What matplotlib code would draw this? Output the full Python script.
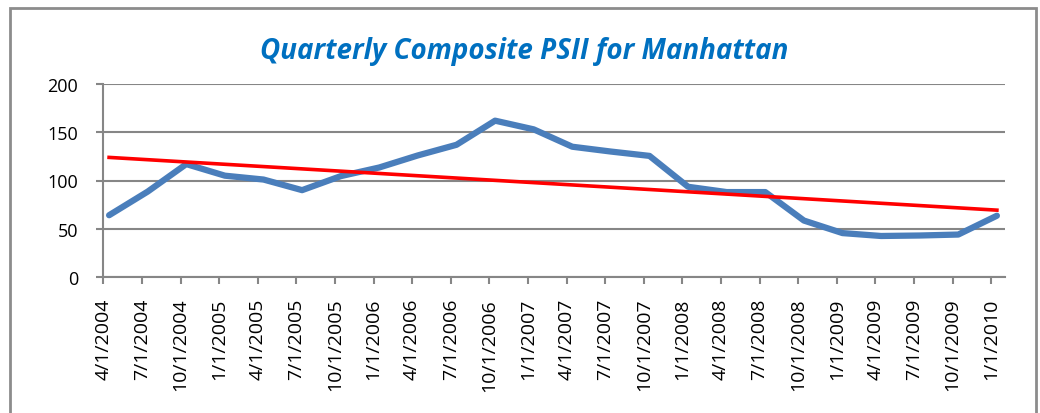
import matplotlib
matplotlib.use("Agg")
import matplotlib.pyplot as plt
from matplotlib.patches import Rectangle
import numpy as np

# quarterly dates and composite PSII values
dates = ['4/1/2004', '7/1/2004', '10/1/2004', '1/1/2005', '4/1/2005', '7/1/2005',
         '10/1/2005', '1/1/2006', '4/1/2006', '7/1/2006', '10/1/2006', '1/1/2007',
         '4/1/2007', '7/1/2007', '10/1/2007', '1/1/2008', '4/1/2008', '7/1/2008',
         '10/1/2008', '1/1/2009', '4/1/2009', '7/1/2009', '10/1/2009', '1/1/2010']
psii = [64, 88.5, 117, 105, 101, 90, 104.5, 113.5, 126, 137, 162, 153,
        135, 130, 125.5, 93.5, 88, 88, 58.5, 45.5, 42.5, 43, 44, 63.5]

# data sit slightly after the 1st-of-month tick on Excel's date axis
x_ticks = np.arange(len(dates))
x_pts = x_ticks + 0.15

# linear trend line, like Excel's
coef = np.polyfit(x_pts, psii, 1)
trend = np.poly1d(coef)

fig = plt.figure(figsize=(10.4, 4.14), dpi=100)
fig.patches.append(Rectangle((10 / 1040, -0.1), 1026 / 1040, 1 - 9 / 414 + 0.1,
                             transform=fig.transFigure, fill=False,
                             edgecolor='#8c8c8c', lw=2))

ax = fig.add_axes([103.3 / 1040, 1 - 278 / 414, (1005 - 103.3) / 1040, (278 - 85) / 414])

grid_c = '#868686'
ax.set_ylim(0, 200)
ax.set_yticks([0, 50, 100, 150, 200])
ax.yaxis.grid(True, color=grid_c, lw=1.5)
ax.set_axisbelow(True)
ax.set_xlim(0, 23.36)
ax.set_xticks(x_ticks)
ax.set_xticklabels(dates, rotation=90, fontsize=14, family='Open Sans')

ax.plot(x_pts, psii, color='#4a7ebb', lw=4.5, solid_capstyle='round',
        solid_joinstyle='round', zorder=3)
ax.plot(x_pts[[0, -1]], trend(x_pts[[0, -1]]), color='#ff0000', lw=2.6, zorder=4)

for s in ['top', 'right']:
    ax.spines[s].set_visible(False)
for s in ['left', 'bottom']:
    ax.spines[s].set_color(grid_c)
    ax.spines[s].set_linewidth(1.5)
ax.tick_params(axis='both', color=grid_c, width=1.5, length=5)
ax.tick_params(axis='x', pad=10)
ax.tick_params(axis='y', pad=13)
for lab in ax.get_yticklabels():
    lab.set_family('Open Sans')
    lab.set_fontsize(13)

fig.text(524 / 1040, 1 - 52 / 414, 'Quarterly Composite PSII for Manhattan',
         ha='center', va='center', fontsize=20, fontweight='bold', style='italic',
         color='#0070c0', family='Open Sans')

fig.savefig('out.png', dpi=100)
